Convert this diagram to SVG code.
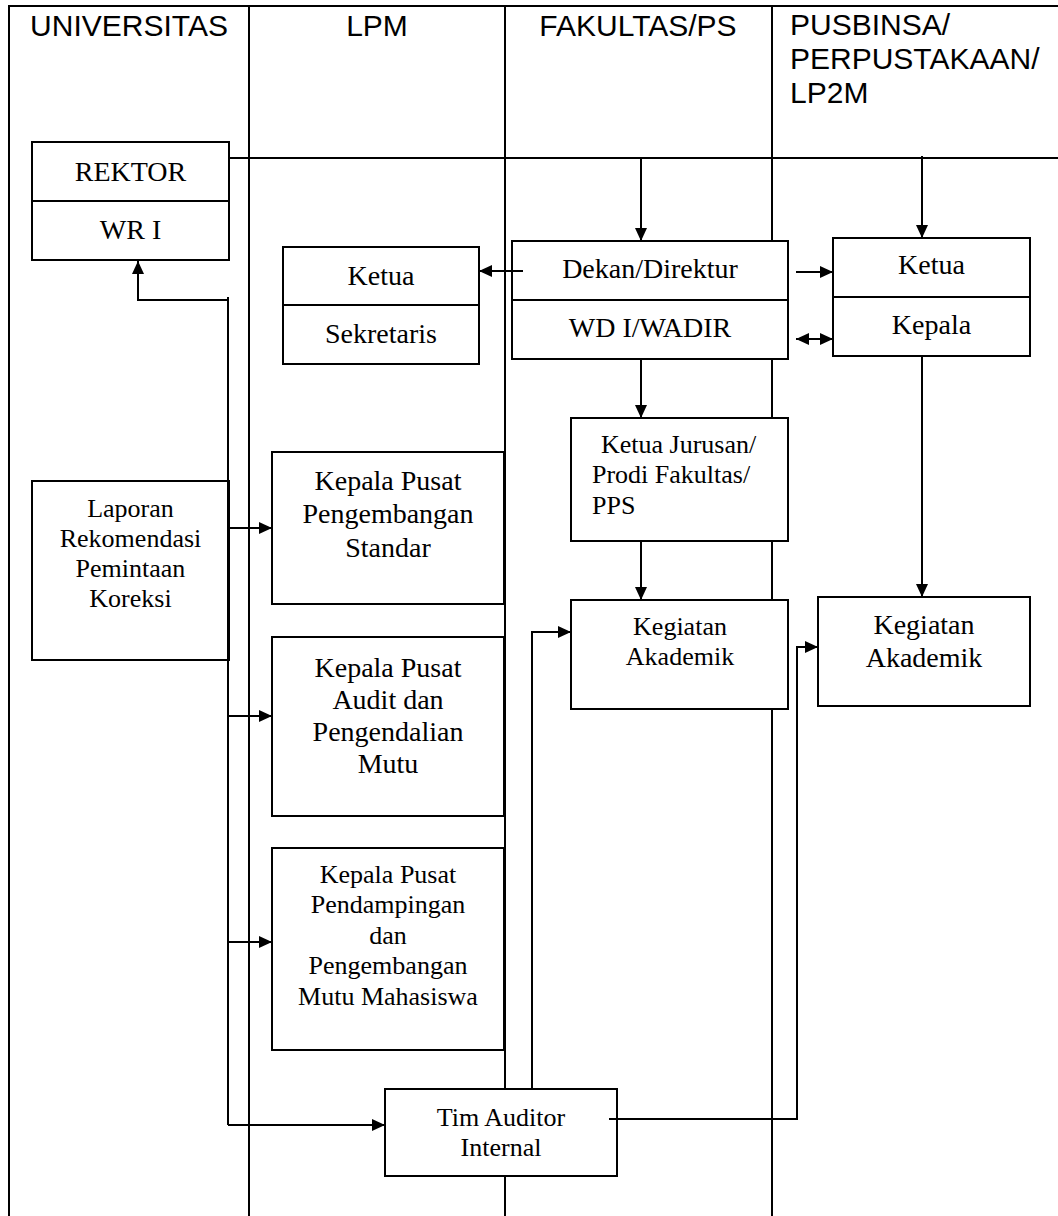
<svg xmlns="http://www.w3.org/2000/svg" width="1058" height="1216" viewBox="0 0 1058 1216">
<style>
.ln{stroke:#000;stroke-width:2;fill:none}
.bx{stroke:#000;stroke-width:2;fill:#fff}
.hd{font-family:"Liberation Sans",Arial,sans-serif;font-size:30px;fill:#000}
.t{font-family:"Liberation Serif","Times New Roman",serif;font-size:28px;fill:#000;text-anchor:middle}
.s{font-family:"Liberation Serif","Times New Roman",serif;font-size:26px;fill:#000;text-anchor:middle}
.sl{font-family:"Liberation Serif","Times New Roman",serif;font-size:26px;fill:#000}
.c{text-anchor:middle}
</style>
<defs>
<marker id="ah" markerUnits="userSpaceOnUse" markerWidth="13" markerHeight="12" refX="13" refY="6" orient="auto-start-reverse">
<path d="M0,0 L13,6 L0,12 z" fill="#000"/>
</marker>
</defs>
<rect width="1058" height="1216" fill="#fff"/>
<g id="lanes">
<path class="ln" d="M9,1216 V6 H1058"/>
<path class="ln" d="M249,6 V1216 M505,6 V1216 M772,6 V1216"/>
<text class="hd c" x="129" y="36">UNIVERSITAS</text>
<text class="hd c" x="377" y="36">LPM</text>
<text class="hd c" x="638" y="36">FAKULTAS/PS</text>
<text class="hd" x="790" y="35">PUSBINSA/</text>
<text class="hd" x="790" y="69">PERPUSTAKAAN/</text>
<text class="hd" x="790" y="103">LP2M</text>
</g>
<g id="rektor">
<rect class="bx" x="32" y="142" width="197" height="118"/>
<path class="ln" d="M32,201 H229"/>
<text class="t" x="130.5" y="181">REKTOR</text>
<text class="t" x="130.5" y="239">WR I</text>
</g>
<g id="lpm-ketua">
<rect class="bx" x="283" y="247" width="196" height="117"/>
<path class="ln" d="M283,305 H479"/>
<text class="t" x="381" y="285">Ketua</text>
<text class="t" x="381" y="343">Sekretaris</text>
</g>
<g id="dekan">
<rect class="bx" x="512" y="241" width="276" height="118"/>
<path class="ln" d="M512,300 H788"/>
<text class="t" x="650" y="278">Dekan/Direktur</text>
<text class="t" x="650" y="337">WD I/WADIR</text>
</g>
<g id="pusbinsa-ketua">
<rect class="bx" x="833" y="238" width="197" height="118"/>
<path class="ln" d="M833,297 H1030"/>
<text class="t" x="931.5" y="274">Ketua</text>
<text class="t" x="931.5" y="334">Kepala</text>
</g>
<g id="ketua-jurusan">
<rect class="bx" x="571" y="418" width="217" height="123"/>
<text class="sl" x="601" y="453">Ketua Jurusan/</text>
<text class="sl" x="592" y="483">Prodi Fakultas/</text>
<text class="sl" x="592" y="514">PPS</text>
</g>
<g id="kegiatan-fakultas">
<rect class="bx" x="571" y="600" width="217" height="109"/>
<text class="s" x="680" y="635">Kegiatan</text>
<text class="s" x="680" y="665">Akademik</text>
</g>
<g id="kegiatan-pusbinsa">
<rect class="bx" x="818" y="597" width="212" height="109"/>
<text class="t" x="924" y="634">Kegiatan</text>
<text class="t" x="924" y="667">Akademik</text>
</g>
<g id="laporan">
<rect class="bx" x="32" y="481" width="197" height="179"/>
<text class="s" x="130.5" y="517">Laporan</text>
<text class="s" x="130.5" y="547">Rekomendasi</text>
<text class="s" x="130.5" y="577">Pemintaan</text>
<text class="s" x="130.5" y="607">Koreksi</text>
</g>
<g id="pusat-standar">
<rect class="bx" x="272" y="452" width="232" height="152"/>
<text class="t" x="388" y="490">Kepala Pusat</text>
<text class="t" x="388" y="523">Pengembangan</text>
<text class="t" x="388" y="557">Standar</text>
</g>
<g id="pusat-audit">
<rect class="bx" x="272" y="637" width="232" height="179"/>
<text class="t" x="388" y="677">Kepala Pusat</text>
<text class="t" x="388" y="709">Audit dan</text>
<text class="t" x="388" y="741">Pengendalian</text>
<text class="t" x="388" y="773">Mutu</text>
</g>
<g id="pusat-pendampingan">
<rect class="bx" x="272" y="848" width="232" height="202"/>
<text class="s" x="388" y="883">Kepala Pusat</text>
<text class="s" x="388" y="913">Pendampingan</text>
<text class="s" x="388" y="944">dan</text>
<text class="s" x="388" y="974">Pengembangan</text>
<text class="s" x="388" y="1005">Mutu Mahasiswa</text>
</g>
<g id="tim-auditor">
<rect class="bx" x="385" y="1089" width="232" height="87"/>
<text class="s" x="501" y="1126">Tim Auditor</text>
<text class="s" x="501" y="1156">Internal</text>
</g>
<g id="connectors">
<path class="ln" d="M229,158 H1058" stroke-width="1.5"/>
<path class="ln" d="M641,158 V241" marker-end="url(#ah)"/>
<path class="ln" d="M922,156 V238" marker-end="url(#ah)"/>
<path class="ln" d="M523,271 H479" marker-end="url(#ah)"/>
<path class="ln" d="M796,272 H833" marker-end="url(#ah)"/>
<path class="ln" d="M796,339 H833" marker-start="url(#ah)" marker-end="url(#ah)"/>
<path class="ln" d="M641,359 V418" marker-end="url(#ah)"/>
<path class="ln" d="M641,541 V600" marker-end="url(#ah)"/>
<path class="ln" d="M922,356 V597" marker-end="url(#ah)"/>
<path class="ln" d="M228,297 V1125"/>
<path class="ln" d="M228,300 H138 V261" marker-end="url(#ah)"/>
<path class="ln" d="M228,528 H272" marker-end="url(#ah)"/>
<path class="ln" d="M228,716 H272" marker-end="url(#ah)"/>
<path class="ln" d="M228,942 H272" marker-end="url(#ah)"/>
<path class="ln" d="M228,1125 H385" marker-end="url(#ah)"/>
<path class="ln" d="M532,1089 V632 H571" marker-end="url(#ah)"/>
<path class="ln" d="M609,1119 H797 V647 H818" marker-end="url(#ah)"/>
</g>
</svg>
